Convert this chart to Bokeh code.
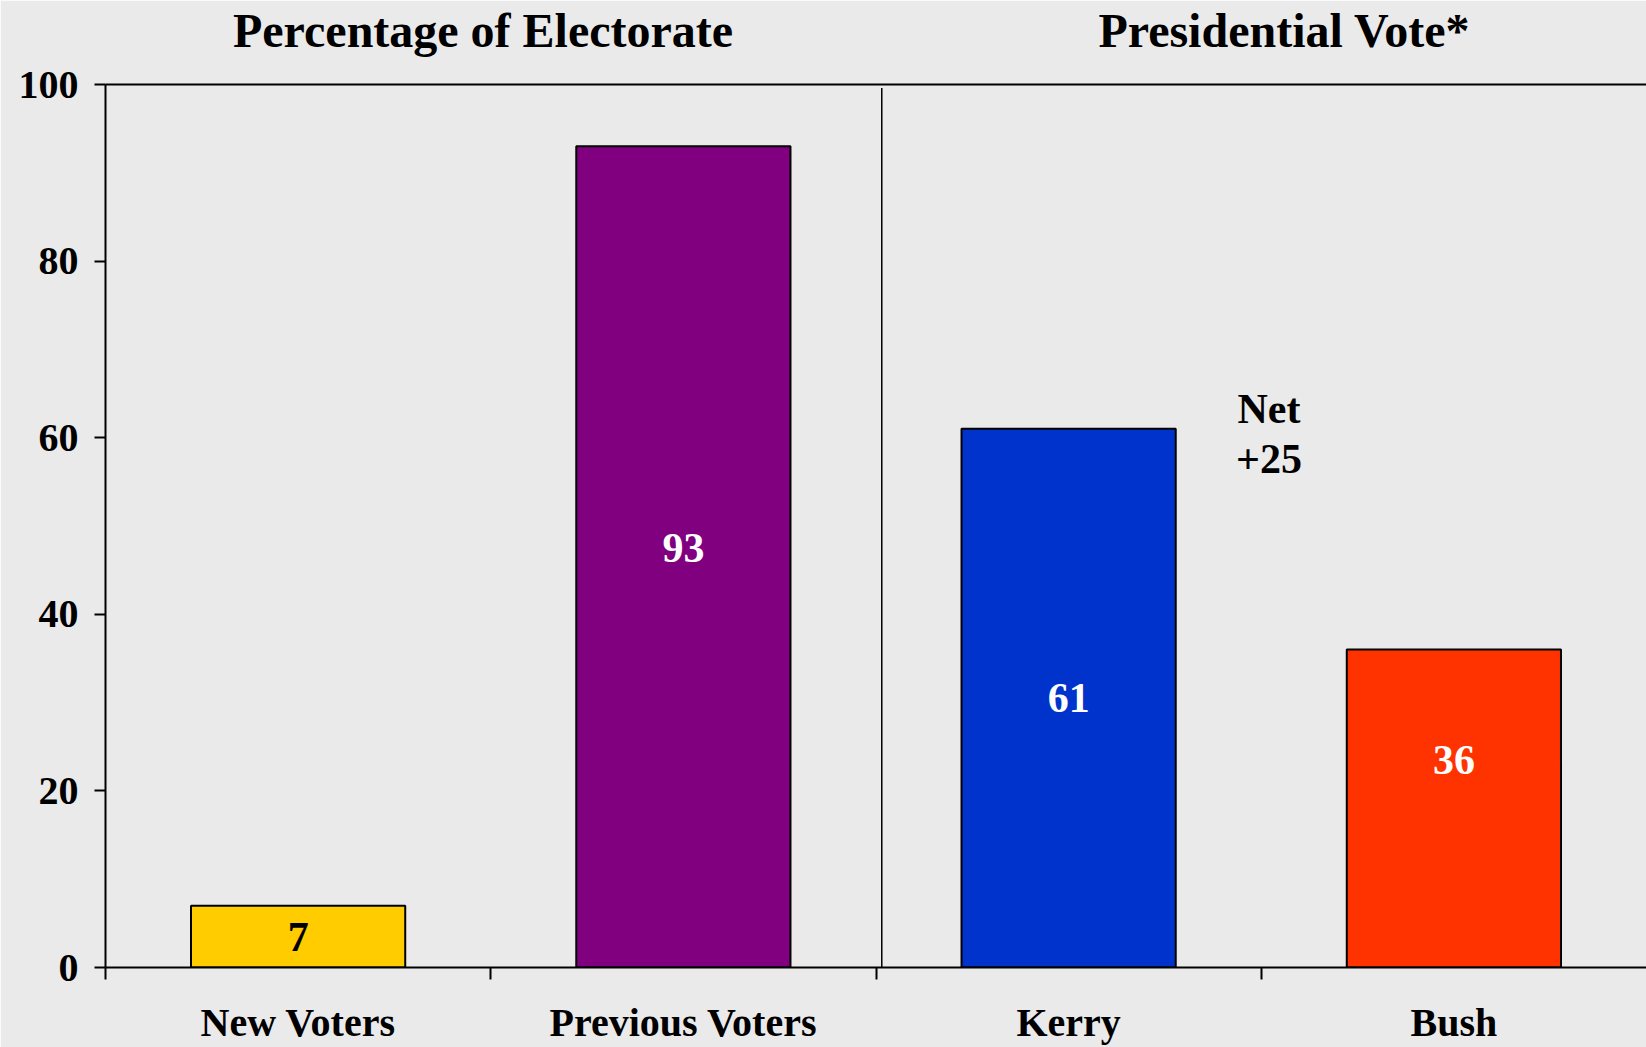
from bokeh.plotting import figure
from bokeh.models import FixedTicker, LinearAxis, Range1d
from bokeh.embed import file_html
from bokeh.resources import INLINE
from bokeh.core.properties import value

categories = ["New Voters", "Previous Voters", "Kerry", "Bush"]
values = [7, 93, 61, 36]
colors = ["#FFCC00", "#800080", "#0033CC", "#FF3300"]
label_colors = ["black", "white", "white", "white"]
label_y = [3.5, 47.5, 30.5, 23.5]
y_ticks = [0, 20, 40, 60, 80, 100]
panel_titles = ["Percentage of Electorate", "Presidential Vote*"]
panel_title_x = [0.98, 3.06]
net_text = ["Net", "+25"]
net_y = [63.2, 57.6]

FONT = "Liberation Serif"
BG = "#EAEAEA"

xc = [i + 0.5 for i in range(len(categories))]

p = figure(width=1646, height=1047,
           x_range=Range1d(0, 4.0), y_range=Range1d(0, 100),
           output_backend="svg", toolbar_location=None,
           min_border_left=105, min_border_right=0,
           min_border_top=84, min_border_bottom=79)
p.background_fill_color = BG
p.border_fill_color = BG
p.outline_line_color = None
p.grid.visible = False

# y axis
ya = p.yaxis[0]
ya.ticker = FixedTicker(ticks=y_ticks)
ya.major_tick_out = 11
ya.major_tick_in = 0
ya.minor_tick_out = 0
ya.minor_tick_in = 0
ya.major_tick_line_width = 2
ya.axis_line_width = 2
ya.major_label_standoff = 16
ya.major_label_text_font = FONT
ya.major_label_text_font_style = "bold"
ya.major_label_text_font_size = "40px"
ya.major_label_text_color = "black"

# x axis: labels at centres, tick marks at boundaries
xa = p.xaxis[0]
xa.ticker = FixedTicker(ticks=xc, minor_ticks=[0, 1, 2, 3])
xa.major_label_overrides = {c: n for c, n in zip(xc, categories)}
xa.major_tick_out = 0
xa.major_tick_in = 0
xa.minor_tick_out = 12
xa.minor_tick_in = 0
xa.minor_tick_line_width = 2
xa.minor_tick_line_color = "black"
xa.axis_line_width = 2
xa.major_label_standoff = 20
xa.major_label_text_font = FONT
xa.major_label_text_font_style = "bold"
xa.major_label_text_font_size = "40px"
xa.major_label_text_color = "black"

# top line carrying the two panel titles
top = LinearAxis(axis_line_width=2, major_tick_out=0, major_tick_in=0,
                 minor_tick_out=0, minor_tick_in=0,
                 ticker=FixedTicker(ticks=panel_title_x, minor_ticks=[]),
                 major_label_overrides={tx: t for tx, t in zip(panel_title_x, panel_titles)},
                 major_label_standoff=28,
                 major_label_text_font=FONT,
                 major_label_text_font_style="bold",
                 major_label_text_font_size="48px",
                 major_label_text_color="black")
p.add_layout(top, "above")

p.vbar(x=xc, top=values, width=0.556, fill_color=colors,
       line_color="black", line_width=2)

p.text(x=xc, y=label_y, text=[str(v) for v in values],
       text_color=label_colors, text_align="center", text_baseline="middle",
       text_font=value(FONT), text_font_style="bold", text_font_size="42px")

p.segment(x0=[2.015], y0=[0], x1=[2.015], y1=[99.6],
          line_color="black", line_width=1.5)

p.text(x=[3.02, 3.02], y=net_y, text=net_text, text_color="black",
       text_align="center", text_baseline="middle",
       text_font=value(FONT), text_font_style="bold", text_font_size="42px")

open("out.html", "w").write(file_html(p, INLINE))
